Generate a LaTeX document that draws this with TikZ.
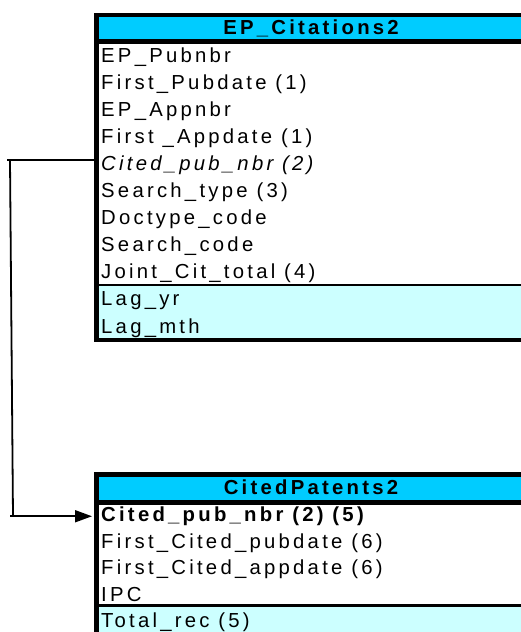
\documentclass[tikz,border=0pt]{standalone}
\usepackage{fontspec}
\setmainfont{Liberation Sans}[LetterSpace=16]
\usetikzlibrary{arrows.meta}
\definecolor{hdr}{RGB}{0,204,255}
\definecolor{lt}{RGB}{204,255,255}
\begin{document}
\begin{tikzpicture}[x=1pt,y=-1pt,
  rowtxt/.style={anchor=base west, inner sep=0pt, font=\fontsize{20.3}{24}\selectfont},
  hdtxt/.style={anchor=base, inner sep=0pt, font=\fontsize{20.3}{24}\selectfont\bfseries},
  tbl/.style={draw=black, line width=4.5pt, outer sep=0pt, inner sep=0pt},
  sep/.style={draw=black},
  conn/.style={line width=1.8pt, draw=black}]
\useasboundingbox (0,0) rectangle (521,632);
\clip (0,0) rectangle (521,632);
\fill[white] (0,0) rectangle (521,632);

% fills
\fill[hdr] (96.5,14.8) rectangle (528,41.3);
\fill[lt] (96.5,285) rectangle (528,340.2);
\fill[hdr] (96.5,474.7) rectangle (528,502.5);
\fill[lt] (96.5,605.5) rectangle (528,660);

% table frames
\node[tbl, minimum width=431.5pt, minimum height=325.4pt] (t1) at (312.25,177.5) {};
\node[tbl, minimum width=431.5pt, minimum height=185.3pt] (t2) at (312.25,567.35) {};

% separators
\draw[sep, line width=4.5pt] (96.5,41.3) -- (528,41.3);
\draw[sep, line width=2pt] (96.5,285) -- (528,285);
\draw[sep, line width=5pt] (96.5,502.5) -- (528,502.5);
\draw[sep, line width=3.5pt] (96.5,605.5) -- (528,605.5);

% headers
\node[hdtxt] (h1) at (311,34) {EP\_Citations2};
\node[hdtxt] (h2) at (311,494) {CitedPatents2};

% top rows
\node[rowtxt] (a0) at (101,62) {EP\_Pubnbr};
\node[rowtxt] (a1) at (101,89.1) {First\_Pubdate (1)};
\node[rowtxt] (a2) at (101,116.2) {EP\_Appnbr};
\node[rowtxt] (a3) at (101,143.3) {First \_Appdate (1)};
\node[rowtxt] (a4) at (101,170.4) {\itshape Cited\_pub\_nbr (2)};
\node[rowtxt] (a5) at (101,197.5) {Search\_type (3)};
\node[rowtxt] (a6) at (101,224.6) {Doctype\_code};
\node[rowtxt] (a7) at (101,251.7) {Search\_code};
\node[rowtxt] (a8) at (101,278.8) {Joint\_Cit\_total (4)};
\node[rowtxt] (a9) at (101,305.9) {Lag\_yr};
\node[rowtxt] (a10) at (101,333) {Lag\_mth};

% lower rows
\node[rowtxt] (b0) at (101,521.5) {\bfseries Cited\_pub\_nbr (2) (5)};
\node[rowtxt] (b1) at (101,548) {First\_Cited\_pubdate (6)};
\node[rowtxt] (b2) at (101,574.5) {First\_Cited\_appdate (6)};
\node[rowtxt] (b3) at (101,601) {IPC};
\node[rowtxt] (b4) at (101,627.5) {Total\_rec (5)};

% connector
\coordinate (s1) at ([yshift=5pt]a4.west -| t1.west);
\coordinate (e1) at ([yshift=0pt]b0.west -| t2.west);
\coordinate (v1) at (10,0);
\coordinate (v2) at (13,0);
\draw[conn] (s1) -- ([xshift=-3pt]v1 |- s1);
\draw[conn] (v1 |- s1) -- (v2 |- e1);
\draw[conn, -{Triangle[length=17pt,width=12pt]}, shorten >=4.5pt] ([xshift=-3pt]v2 |- e1) -- (e1);
\end{tikzpicture}
\end{document}
